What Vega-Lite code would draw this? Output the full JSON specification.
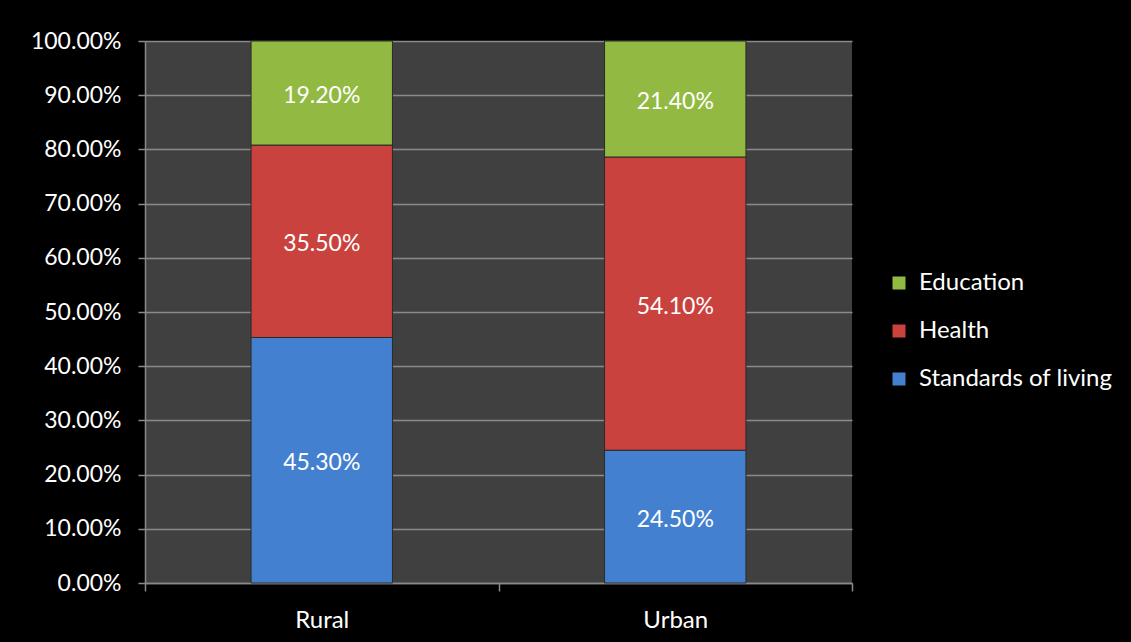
{
  "$schema": "https://vega.github.io/schema/vega-lite/v6.json",
  "width": 707,
  "height": 542,
  "autosize": {"type": "none"},
  "padding": {"left": 145, "top": 41, "right": 279, "bottom": 59},
  "background": "#000000",
  "config": {
    "view": {"fill": "#404040", "stroke": null},
    "font": "Lato"
  },
  "data": {
    "values": [
      {"area": "Rural", "dimension": "Standards of living", "share": 0.453},
      {"area": "Rural", "dimension": "Health", "share": 0.355},
      {"area": "Rural", "dimension": "Education", "share": 0.192},
      {"area": "Urban", "dimension": "Standards of living", "share": 0.245},
      {"area": "Urban", "dimension": "Health", "share": 0.541},
      {"area": "Urban", "dimension": "Education", "share": 0.214}
    ]
  },
  "encoding": {
    "x": {
      "field": "area",
      "type": "nominal",
      "scale": {"paddingInner": 0, "paddingOuter": 0},
      "axis": {
        "title": null,
        "labelAngle": 0,
        "labelColor": "#ffffff",
        "labelFontSize": 24,
        "labelPadding": 17,
        "tickBand": "extent",
        "tickColor": "#8a8a8a",
        "tickSize": 8,
        "tickWidth": 1.5,
        "domainColor": "#8a8a8a",
        "domainWidth": 1.5
      }
    },
    "y": {
      "field": "share",
      "type": "quantitative",
      "stack": "zero",
      "scale": {"domain": [0, 1]},
      "axis": {
        "title": null,
        "format": ".2%",
        "values": [0, 0.1, 0.2, 0.3, 0.4, 0.5, 0.6, 0.7, 0.8, 0.9, 1],
        "labelColor": "#ffffff",
        "labelFontSize": 23,
        "labelPadding": 17,
        "tickColor": "#8a8a8a",
        "tickSize": 7,
        "tickWidth": 1.5,
        "domainColor": "#8a8a8a",
        "domainWidth": 1.5,
        "gridColor": "#8a8a8a",
        "gridWidth": 1.5
      }
    },
    "order": {"field": "dimension", "sort": "descending"}
  },
  "layer": [
    {
      "mark": {"type": "bar", "width": {"band": 0.4}, "stroke": "#2a2a2a", "strokeWidth": 1},
      "encoding": {
        "color": {
          "field": "dimension",
          "type": "nominal",
          "scale": {
            "domain": ["Education", "Health", "Standards of living"],
            "range": ["#92ba42", "#c9423e", "#4381d0"]
          },
          "legend": {
            "title": null,
            "orient": "none",
            "legendX": 742,
            "legendY": 230,
            "symbolType": "square",
            "symbolSize": 169,
            "symbolStrokeWidth": 0,
            "labelColor": "#ffffff",
            "labelFontSize": 24,
            "labelLimit": 400,
            "labelOffset": 8,
            "rowPadding": 24
          }
        }
      }
    },
    {
      "mark": {"type": "text", "color": "#ffffff", "fontSize": 23, "baseline": "middle", "dy": 3},
      "encoding": {
        "y": {"field": "share", "type": "quantitative", "stack": "zero", "bandPosition": 0.5},
        "text": {"field": "share", "type": "quantitative", "format": ".2%"}
      }
    }
  ]
}
